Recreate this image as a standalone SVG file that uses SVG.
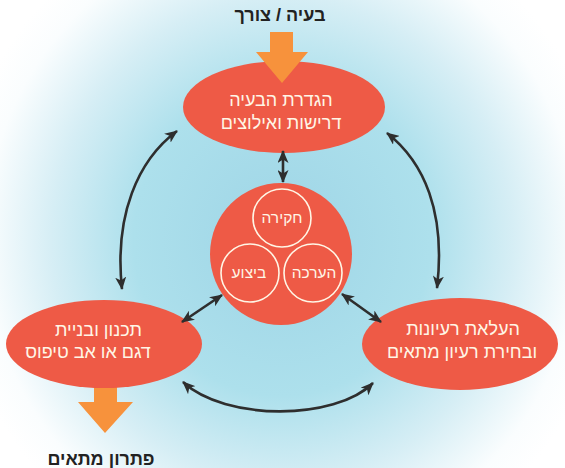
<svg xmlns="http://www.w3.org/2000/svg" width="565" height="468" viewBox="0 0 565 468">
<defs>
<radialGradient id="bg" cx="282" cy="240" r="330" gradientUnits="userSpaceOnUse" gradientTransform="translate(282 240) scale(1 1.05) translate(-282 -240)">
<stop offset="0" stop-color="#9ed5e6"/>
<stop offset="0.45" stop-color="#ade0ec"/>
<stop offset="0.7" stop-color="#d6eef5"/>
<stop offset="0.9" stop-color="#fafdfe"/>
<stop offset="1" stop-color="#ffffff"/>
</radialGradient>
<marker id="ah" viewBox="0 0 13 11" refX="12" refY="5.5" markerWidth="13" markerHeight="11" markerUnits="userSpaceOnUse" orient="auto-start-reverse">
<path d="M0,0 L13,5.5 L0,11 L3.5,5.5 Z" fill="#2e2e2e"/>
</marker>
<style>
.node{fill:#ee5a46;}
.ring{fill:none;stroke:#fff6e6;stroke-width:1.6;}
.lbl{font-family:"Liberation Sans","DejaVu Sans",sans-serif;font-size:18px;fill:#fff6e6;text-anchor:middle;}
.small{font-size:15.5px;}
.title{font-family:"Liberation Sans","DejaVu Sans",sans-serif;font-size:18px;font-weight:bold;fill:#222;text-anchor:middle;}
.con{fill:none;stroke:#2e2e2e;stroke-width:2.6;marker-start:url(#ah);marker-end:url(#ah);}
.big{fill:#f7923c;}
</style>
</defs>
<rect width="565" height="468" fill="url(#bg)"/>

<g id="input">
<text class="title" x="280" y="21">בעיה / צורך</text>
</g>

<g id="output">
<polygon class="big" points="94,380 117,380 117,402 133,402 105,433 78,402 94,402"/>
<text class="title" x="101" y="465">פתרון מתאים</text>
</g>

<g id="define">
<ellipse class="node" cx="284" cy="107" rx="101" ry="46"/>
<text class="lbl" x="281" y="106">הגדרת הבעיה</text>
<text class="lbl" x="281" y="129">דרישות ואילוצים</text>
</g>

<g id="ideas">
<ellipse class="node" cx="460" cy="344" rx="98" ry="46"/>
<text class="lbl" x="463" y="335">העלאת רעיונות</text>
<text class="lbl" x="462" y="358">ובחירת רעיון מתאים</text>
</g>

<g id="plan">
<ellipse class="node" cx="104" cy="344" rx="98" ry="44"/>
<text class="lbl" x="98.5" y="336">תכנון ובניית</text>
<text class="lbl" x="88" y="358">דגם או אב טיפוס</text>
</g>

<g id="core">
<circle class="node" cx="281" cy="254" r="71"/>
<circle class="ring" cx="282" cy="218" r="29"/>
<circle class="ring" cx="250" cy="273" r="29"/>
<circle class="ring" cx="313" cy="273" r="29"/>
<text class="lbl small" x="282" y="223">חקירה</text>
<text class="lbl small" x="249" y="278">ביצוע</text>
<text class="lbl small" x="314" y="278">הערכה</text>
</g>

<g id="input-arrow">
<polygon class="big" points="270,32 293,32 293,52 308,52 282,83 256,52 270,52"/>
</g>

<g id="connectors">
<path class="con" d="M283,151 L283,182"/>
<path class="con" d="M222,295 L182,322"/>
<path class="con" d="M342,294 L381,322"/>
<path class="con" d="M177,131 C138,160 114,215 122,289"/>
<path class="con" d="M387,133 C424,162 446,212 437,288"/>
<path class="con" d="M183,382 C225,421 335,421 373,383"/>
</g>
</svg>
